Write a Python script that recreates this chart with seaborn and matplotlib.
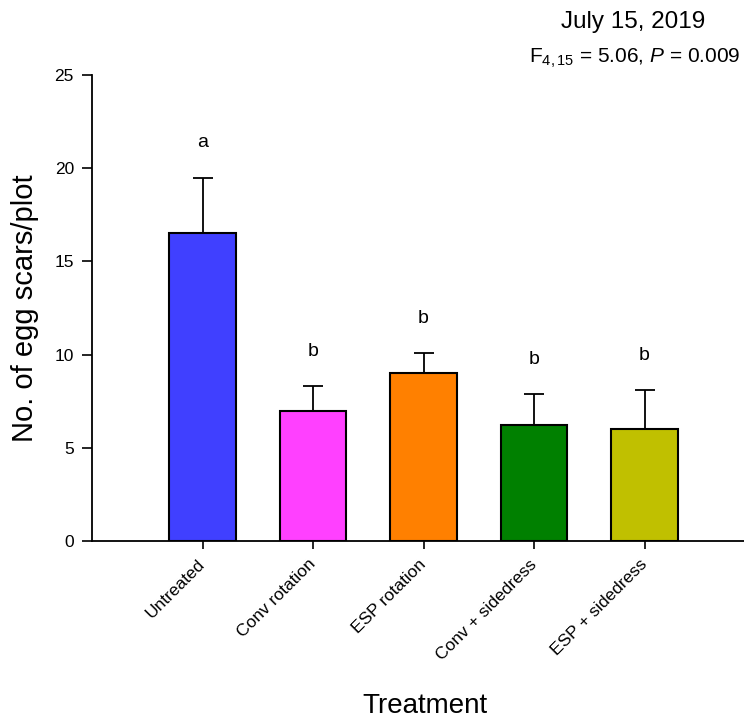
import numpy as np
import pandas as pd
import matplotlib
matplotlib.use('Agg')
import matplotlib.pyplot as plt
import seaborn as sns

# datos
treatments = ['Untreated', 'Conv rotation', 'ESP rotation', 'Conv + sidedress', 'ESP + sidedress']
means = [16.5, 7.0, 9.0, 6.2, 6.0]
errors = [3.0, 1.3, 1.1, 1.7, 2.1]
letters = ['a', 'b', 'b', 'b', 'b']
colors = ['#4040FF', '#FF40FF', '#FF8000', '#008000', '#C0C000']

sns.set_style('ticks', {'axes.edgecolor': 'black', 'text.color': 'black',
                        'axes.labelcolor': 'black', 'xtick.color': 'black',
                        'ytick.color': 'black'})
plt.rcParams['font.family'] = ['Liberation Sans', 'DejaVu Sans']
plt.rcParams['mathtext.fontset'] = 'custom'
plt.rcParams['mathtext.rm'] = 'Liberation Sans'
plt.rcParams['mathtext.it'] = 'Liberation Sans:italic'

df = pd.DataFrame({'Treatment': treatments, 'Mean': means})

fig = plt.figure(figsize=(7.44, 7.19), dpi=100)
ax = fig.add_axes([0.1237, 0.2476, 0.8763, 0.6481])

sns.barplot(data=df, x='Treatment', y='Mean', hue='Treatment', palette=colors,
            saturation=1, width=0.6, edgecolor='black', linewidth=1.5,
            legend=False, ax=ax)

x = np.arange(len(treatments))
ax.errorbar(x, means, yerr=[np.zeros(len(means)), errors], fmt='none',
            ecolor='black', elinewidth=1.3, capsize=7, capthick=1.3)

# letras de significancia
for xi, m, e, l in zip(x, means, errors, letters):
    ax.text(xi, m + e + 1.4, l, ha='center', va='bottom', fontsize=14, color='black')

ax.set_xlim(-1, 4.9)
ax.set_ylim(0, 25)
ax.set_yticks([0, 5, 10, 15, 20, 25])
ax.set_xticks(x)
ax.set_xticklabels(treatments, rotation=45, ha='right', va='center',
                   rotation_mode='anchor', fontsize=12.5)
ax.tick_params(axis='y', labelsize=12.5, length=7, width=1.2, direction='out', pad=6)
ax.tick_params(axis='x', length=6, width=1.2, direction='out', pad=9)
for s in ['top', 'right']:
    ax.spines[s].set_visible(False)
for s in ['left', 'bottom']:
    ax.spines[s].set_linewidth(1.3)

ax.set_ylabel('No. of egg scars/plot', fontsize=21, labelpad=11)
ax.set_xlabel('Treatment', fontsize=20)
ax.xaxis.set_label_coords(0.511, -0.369)
ax.xaxis.label.set_va('baseline')

fig.text(633.5 / 744, 1 - 28 / 719, 'July 15, 2019', ha='center', va='baseline',
         fontsize=17.5, color='black')
fig.text(0.995, 1 - 63 / 719, r'F$_{4,15}$ = 5.06, $P$ = 0.009', ha='right',
         va='baseline', fontsize=15, color='black')

fig.savefig('out.png', dpi=100)
